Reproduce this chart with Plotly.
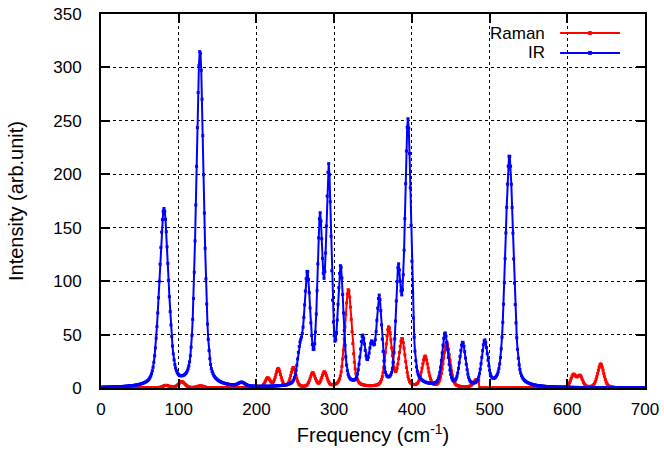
import numpy as np
import plotly.graph_objects as go

# Frequency grid (cm^-1)
freq = np.arange(0, 701, 1.0)

# IR bands: centre (cm^-1), peak intensity and apparent FWHM
ir_centers = [81.0, 127.4, 181.0, 256.0, 265.5, 281.8, 293.0, 308.4, 336.7, 348.0,
              358.0, 382.6, 395.0, 442.7, 465.4, 493.7, 525.5]
ir_heights = [168.0, 316.0, 5.5, 43.0, 110.0, 164.0, 210.0, 115.0, 49.6, 44.0,
              87.0, 116.0, 252.0, 51.7, 43.0, 45.0, 218.0]
ir_widths = [14.0, 11.5, 10.0, 8.0, 9.0, 8.0, 8.0, 8.5, 8.0, 8.0,
             8.0, 7.5, 9.5, 9.0, 9.0, 9.0, 12.0]

# Raman bands, first data block (ends near 486 cm^-1)
raman_centers_a = [83.6, 103.8, 128.0, 214.5, 228.0, 247.5, 272.4, 287.4, 318.3,
                   370.2, 387.4, 417.0, 444.8, 483.5]
raman_heights_a = [2.5, 6.0, 2.0, 9.7, 18.4, 19.4, 14.4, 15.3, 92.3,
                   57.4, 46.5, 30.0, 42.4, 8.0]
raman_widths_a = [10.0, 10.0, 10.0, 8.0, 8.0, 8.0, 8.0, 8.0, 10.5,
                  9.5, 9.5, 9.5, 10.0, 10.0]
raman_cut = 486.0
# Raman bands, second data block
raman_centers_b = [607.8, 616.4, 643.0]
raman_heights_b = [13.0, 12.0, 22.5]
raman_widths_b = [8.0, 8.0, 9.5]

lorentz_share = 0.35


def band(x, c, w):
    d2 = 4.0 * (x - c) ** 2 / w ** 2
    return lorentz_share / (1.0 + d2) + (1.0 - lorentz_share) * np.exp(-np.log(2.0) * d2)


def broaden(x, centers, heights, widths):
    c = np.asarray(centers)
    h = np.asarray(heights)
    w = np.asarray(widths)
    M = band(c[:, None], c[None, :], w[None, :])
    a = np.linalg.solve(M, h)
    return (a[None, :] * band(x[:, None], c[None, :], w[None, :])).sum(axis=1)


ir = broaden(freq, ir_centers, ir_heights, ir_widths)
raman = np.where(freq <= raman_cut,
                 broaden(freq, raman_centers_a, raman_heights_a, raman_widths_a),
                 broaden(freq, raman_centers_b, raman_heights_b, raman_widths_b))

RED = "#ff0000"
BLUE = "#0000ff"

fig = go.Figure()
fig.add_trace(go.Scatter(x=freq, y=raman, mode="lines+markers", name="Raman",
                         line=dict(color=RED, width=2),
                         marker=dict(color=RED, size=3, symbol="square")))
fig.add_trace(go.Scatter(x=freq, y=ir, mode="lines+markers", name="IR",
                         line=dict(color=BLUE, width=2),
                         marker=dict(color=BLUE, size=3, symbol="square")))

axis_common = dict(showgrid=True, gridcolor="#000000", griddash="dot", gridwidth=1,
                   showline=True, linewidth=2, linecolor="black", mirror="allticks",
                   ticks="inside", ticklen=9, tickwidth=1.5, tickcolor="black",
                   zeroline=False, automargin=False)

fig.update_xaxes(range=[0, 700], dtick=100, tick0=0,
                 title=dict(text="Frequency (cm<sup>-1</sup>)", standoff=10),
                 ticklabelstandoff=5, **axis_common)
fig.update_yaxes(range=[0, 350], dtick=50, tick0=0,
                 title=dict(text="Intensity (arb.unit)", standoff=24),
                 ticklabelstandoff=14, **axis_common)

# gnuplot-style key: text on the left, sample on the right
legend_items = [("Raman", RED, 0.949), ("IR", BLUE, 0.896)]
for label, col, yy in legend_items:
    fig.add_annotation(x=0.820, y=yy, xref="paper", yref="paper", text=label,
                       showarrow=False, xanchor="right", yanchor="middle",
                       font=dict(size=17, color="black"))
    fig.add_shape(type="line", xref="paper", yref="paper", x0=0.844, x1=0.954,
                  y0=yy, y1=yy, line=dict(color=col, width=2))
    fig.add_shape(type="rect", xref="paper", yref="paper",
                  x0=0.899 - 0.0028, x1=0.899 + 0.0028,
                  y0=yy - 0.004, y1=yy + 0.004,
                  line=dict(color=col, width=1), fillcolor=col)

fig.update_layout(width=664, height=457,
                  margin=dict(l=101, r=19, t=14, b=69),
                  plot_bgcolor="white", paper_bgcolor="white",
                  showlegend=False,
                  font=dict(family="Liberation Sans, Arial, sans-serif", size=17,
                            color="black"))

# remove the default 8 px page margin so the figure sits at the window's corner
fig.write_html("out.html", config={"displayModeBar": False},
               post_script="document.body.style.margin='0';")
